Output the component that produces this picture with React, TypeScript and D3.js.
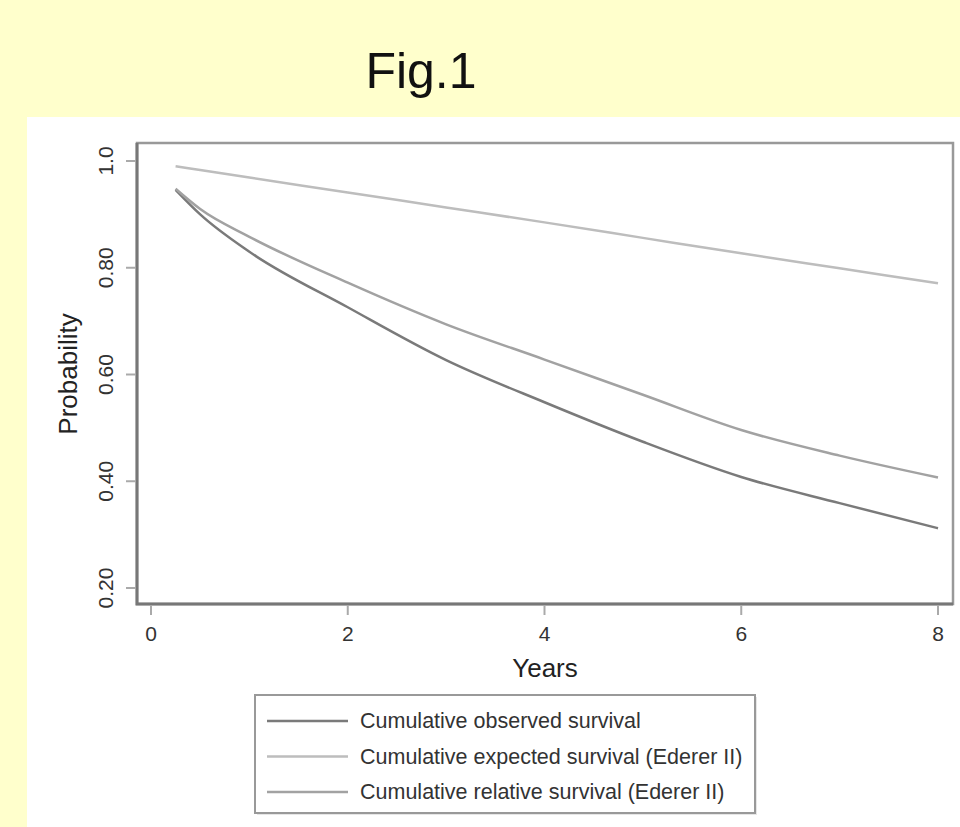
import React, { useEffect, useRef } from 'react';
import * as d3 from 'd3';

const W = 960;
const H = 827;
const plot = { left: 137, top: 143, right: 953, bottom: 604 };

const years = [0.25, 0.5, 1, 2, 3, 4, 5, 6, 7, 8];
const observed = [0.946, 0.9, 0.83, 0.726, 0.627, 0.548, 0.474, 0.408, 0.359, 0.312];
const expected = [0.99, 0.983, 0.969, 0.941, 0.913, 0.885, 0.856, 0.827, 0.799, 0.771];
const relative = [0.948, 0.91, 0.858, 0.772, 0.694, 0.628, 0.562, 0.496, 0.448, 0.407];

const xTicks = [0, 2, 4, 6, 8];
const yTicks = [0.2, 0.4, 0.6, 0.8, 1.0];
const yTickLabels = ['0.20', '0.40', '0.60', '0.80', '1.0'];

const seriesNames = [
    'Cumulative observed survival',
    'Cumulative expected survival (Ederer II)',
    'Cumulative relative survival (Ederer II)'
];
const seriesColors = ['#7a7a7a', '#bdbdbd', '#a2a2a2'];

const font = 'Arial, "Liberation Sans", sans-serif';

export default function App() {
    const ref = useRef<SVGSVGElement>(null);

    useEffect(() => {
        const svg = d3.select(ref.current);
        svg.selectAll('*').remove();

        const x = d3.scaleLinear().domain([0, 8]).range([151, 938]);
        const y = d3.scaleLinear().domain([0.2, 1.0]).range([588, 161]);

        // backgrounds
        svg.append('rect').attr('width', W).attr('height', H).attr('fill', '#ffffcc');
        svg.append('rect')
            .attr('x', 27).attr('y', 117)
            .attr('width', W - 27).attr('height', H - 117)
            .attr('fill', '#ffffff');

        svg.append('text')
            .attr('x', 421).attr('y', 88)
            .attr('text-anchor', 'middle')
            .attr('font-family', font)
            .attr('font-size', 50)
            .attr('fill', '#111')
            .text('Fig.1');

        // plot frame
        svg.append('rect')
            .attr('x', plot.left).attr('y', plot.top)
            .attr('width', plot.right - plot.left)
            .attr('height', plot.bottom - plot.top)
            .attr('fill', 'none')
            .attr('stroke', '#999')
            .attr('stroke-width', 2.5);
        svg.append('path')
            .attr('d', `M${plot.left},${plot.top} V${plot.bottom} H${plot.right}`)
            .attr('fill', 'none')
            .attr('stroke', '#777')
            .attr('stroke-width', 3);

        // x axis
        const xg = svg.append('g');
        xg.selectAll('line')
            .data(xTicks)
            .enter()
            .append('line')
            .attr('x1', d => x(d)).attr('x2', d => x(d))
            .attr('y1', plot.bottom + 1).attr('y2', plot.bottom + 11)
            .attr('stroke', '#aaa')
            .attr('stroke-width', 2);
        xg.selectAll('text')
            .data(xTicks)
            .enter()
            .append('text')
            .attr('x', d => x(d)).attr('y', 641)
            .attr('text-anchor', 'middle')
            .attr('font-family', font)
            .attr('font-size', 21)
            .attr('fill', '#333')
            .text(d => d);

        // y axis
        const yg = svg.append('g');
        yg.selectAll('line')
            .data(yTicks)
            .enter()
            .append('line')
            .attr('x1', plot.left - 11).attr('x2', plot.left - 1)
            .attr('y1', d => y(d)).attr('y2', d => y(d))
            .attr('stroke', '#aaa')
            .attr('stroke-width', 2);
        yg.selectAll('text')
            .data(yTicks)
            .enter()
            .append('text')
            .attr('transform', d => `translate(113, ${y(d)}) rotate(-90)`)
            .attr('text-anchor', 'middle')
            .attr('font-family', font)
            .attr('font-size', 21)
            .attr('fill', '#333')
            .text((d, i) => yTickLabels[i]);

        svg.append('text')
            .attr('x', 545).attr('y', 677)
            .attr('text-anchor', 'middle')
            .attr('font-family', font)
            .attr('font-size', 26)
            .attr('fill', '#222')
            .text('Years');
        svg.append('text')
            .attr('transform', 'translate(77, 374) rotate(-90)')
            .attr('text-anchor', 'middle')
            .attr('font-family', font)
            .attr('font-size', 26)
            .attr('fill', '#222')
            .text('Probability');

        // lines
        const allSeries = [observed, expected, relative];
        const line = d3.line<number>()
            .x((d, i) => x(years[i]))
            .y(d => y(d))
            .curve(d3.curveMonotoneX);
        svg.append('g')
            .selectAll('path')
            .data(allSeries)
            .enter()
            .append('path')
            .attr('d', d => line(d))
            .attr('fill', 'none')
            .attr('stroke', (d, i) => seriesColors[i])
            .attr('stroke-width', 2.5);

        // legend
        const lg = svg.append('g');
        lg.append('rect')
            .attr('x', 257).attr('y', 697)
            .attr('width', 500).attr('height', 118)
            .attr('fill', '#e6e6e6');
        lg.append('rect')
            .attr('x', 255).attr('y', 695)
            .attr('width', 500).attr('height', 118)
            .attr('fill', '#fff')
            .attr('stroke', '#999')
            .attr('stroke-width', 2);
        const rows = lg.selectAll('g.row')
            .data(seriesNames)
            .enter()
            .append('g')
            .attr('class', 'row')
            .attr('transform', (d, i) => `translate(0, ${721 + i * 35.5})`);
        rows.append('line')
            .attr('x1', 267).attr('x2', 348)
            .attr('stroke', (d, i) => seriesColors[i])
            .attr('stroke-width', 2.5);
        rows.append('text')
            .attr('x', 360).attr('y', 7)
            .attr('font-family', font)
            .attr('font-size', 21.5)
            .attr('fill', '#333')
            .text(d => d);
    }, []);

    return (
        <svg ref={ref} width={W} height={H}
            style={{ position: 'absolute', left: 0, top: 0, display: 'block' }} />
    );
}
